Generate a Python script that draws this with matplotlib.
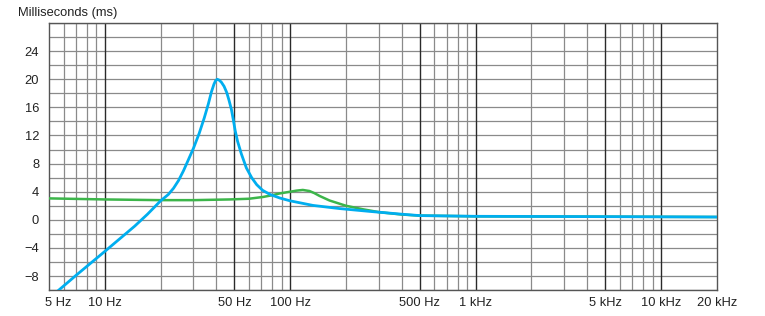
import numpy as np
import matplotlib
matplotlib.use("Agg")
import matplotlib.pyplot as plt
from matplotlib.transforms import ScaledTranslation

# values (frequency in Hz, delay in ms)
blue_f = [5.0, 7, 10, 14.5, 17, 20, 22, 23.5, 25, 26.6, 28.3, 30.1, 32.3, 34.4, 36.2, 37.6,
          38.8, 39.6, 40.4, 41.3, 42.5, 44, 45.5, 46.8, 48.2, 49.3, 50.5, 52, 54.5, 58, 62,
          66, 71, 78, 88, 100, 132.7, 184.7, 268, 400, 500, 1000, 5000, 20000]
blue_ms = [-11.2, -7.9, -4.5, -0.9, 0.8, 2.7, 3.6, 4.5, 5.6, 7.0, 8.6, 10.2, 12.3, 14.5, 16.5, 18.2,
           19.3, 19.8, 20.0, 19.9, 19.6, 19.0, 18.1, 17.0, 15.7, 14.3, 12.7, 11.2, 9.4, 7.4, 6.0,
           5.0, 4.2, 3.6, 3.1, 2.7, 2.05, 1.6, 1.2, 0.8, 0.6, 0.5, 0.45, 0.4]

green_f = [5.0, 10, 20, 30, 47.2, 60, 71.3, 80, 87.7, 100, 108, 117, 127, 135, 144, 163,
           200, 247, 300, 400, 500, 1000, 5000, 20000]
green_ms = [3.05, 2.9, 2.8, 2.8, 2.9, 3.0, 3.25, 3.5, 3.75, 4.0, 4.15, 4.25, 4.1, 3.8, 3.4, 2.75,
            2.0, 1.5, 1.1, 0.75, 0.6, 0.5, 0.45, 0.4]

tick_f = [5, 10, 50, 100, 500, 1000, 5000, 10000, 20000]
tick_labels = ["5 Hz", "10 Hz", "50 Hz", "100 Hz", "500 Hz", "1 kHz", "5 kHz", "10 kHz", "20 kHz"]
ms_ticks = [-8, -4, 0, 4, 8, 12, 16, 20, 24]

plt.rcParams["font.family"] = ["Liberation Sans", "DejaVu Sans"]

fig = plt.figure(figsize=(7.65, 3.16), dpi=100)
ax = fig.add_axes([0.064, 0.082, 0.873, 0.845])
ax.set_xscale("log")
ax.set_xlim(5, 20000)
ax.set_ylim(-10, 28)

# horizontal grid every 2 ms
for v in range(-10, 29, 2):
    ax.axhline(v, color="#8a8a8a", lw=0.9, zorder=1)

# vertical grid: light minor lines, dark at the labelled frequencies
minor = []
for dec in [1, 10, 100, 1000]:
    for m in range(2, 10):
        minor.append(m * dec)
major = [10, 50, 100, 500, 1000, 5000, 10000]
for f in minor:
    if 5 < f < 10000 and f not in major:
        ax.axvline(f, color="#8a8a8a", lw=0.9, zorder=1)
for f in major:
    ax.axvline(f, color="#2a2a2a", lw=1.0, zorder=1)

ax.plot(green_f, green_ms, color="#3cb54a", lw=1.8, zorder=3, solid_capstyle="round")
ax.plot(blue_f, blue_ms, color="#00aeef", lw=2.0, zorder=4, solid_capstyle="round",
        solid_joinstyle="round")

ax.set_xticks(tick_f)
ax.set_xticklabels(tick_labels)
ax.xaxis.set_minor_locator(matplotlib.ticker.NullLocator())
ax.set_yticks(ms_ticks)
ax.tick_params(length=0, labelsize=9.3, colors="#222222")
ax.tick_params(axis="x", pad=5)
ax.tick_params(axis="y", pad=7)
first = ax.get_xticklabels()[0]
first.set_transform(first.get_transform() + ScaledTranslation(0.09, 0, fig.dpi_scale_trans))

for s in ax.spines.values():
    s.set_color("#555555")
    s.set_linewidth(1.0)

fig.text(0.024, 0.96, "Milliseconds (ms)", fontsize=9.3, color="#222222", va="center")

fig.savefig("out.png", dpi=100)
